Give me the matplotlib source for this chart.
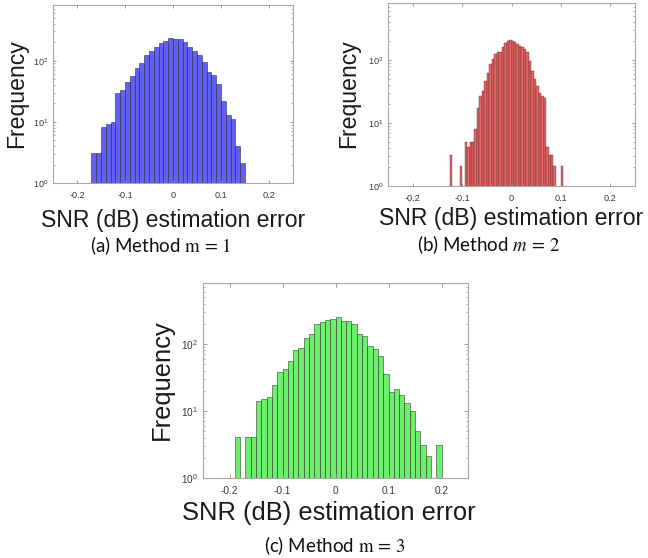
import numpy as np
import matplotlib
matplotlib.use("Agg")
import matplotlib.pyplot as plt
from matplotlib.ticker import LogLocator, NullFormatter

plt.rcParams["font.family"] = ["Liberation Sans", "DejaVu Sans"]
plt.rcParams["mathtext.fontset"] = "stix"
plt.rcParams["axes.unicode_minus"] = False

# Histogram data: left edge of first bin, bin width, counts per bin
m1_start, m1_width = -0.17, 0.01
m1_counts = [3, 3, 8, 9, 10, 30, 33, 44, 56, 76, 93, 125, 145, 170, 198, 213,
             238, 224, 226, 200, 170, 145, 125, 96, 66, 59, 42, 22, 13, 11, 4, 2]

m2_start, m2_width = -0.125, 0.005
m2_counts = [3, 0, 0, 0, 2, 0, 5, 4, 5, 5, 8, 17, 27, 32, 47, 63, 86, 106, 125,
             133, 136, 160, 187, 204, 212, 204, 193, 180, 166, 160, 150, 133, 98,
             67, 50, 39, 30, 27, 25, 4, 3, 3, 2, 0, 0, 2]

m3_start, m3_width = -0.19, 0.01
m3_counts = [4, 0, 4, 4, 14, 15, 16, 24, 38, 42, 56, 81, 86, 124, 139, 196, 215,
             228, 233, 250, 220, 223, 196, 139, 133, 93, 83, 65, 36, 19, 21, 17,
             13, 10, 5, 3, 2, 0, 3]

xticks = [-0.2, -0.1, 0, 0.1, 0.2]
xtick_labels = ["-0.2", "-0.1", "0", "0.1", "0.2"]
xlabel = "SNR (dB) estimation error"
ylabel = "Frequency"
captions = [r"(a) Method $\mathrm{m}\,=\,1$",
            r"(b) Method $m\,=\,2$",
            r"(c) Method $\mathrm{m}\,=\,3$"]

W, H = 648, 558
fig = plt.figure(figsize=(W / 100, H / 100), dpi=100)


def px_axes(left, top, right, bottom):
    return fig.add_axes([left / W, 1 - bottom / H, (right - left) / W, (bottom - top) / H])


def draw_hist(ax, start, width, counts, face, scale, lw):
    counts = np.asarray(counts, dtype=float)
    lefts = start + width * np.arange(len(counts))
    keep = counts > 0
    ax.set_yscale("log")
    ax.bar(lefts[keep], counts[keep], width=width, align="edge", bottom=0.1,
           color=face, edgecolor=(0.1, 0.1, 0.1, 0.75), linewidth=lw)
    ax.set_xlim(-0.25, 0.25)
    ax.set_ylim(1, 10 ** 2.91)
    ax.set_xticks(xticks)
    ax.set_xticklabels(xtick_labels)
    ax.yaxis.set_major_locator(LogLocator(base=10, numticks=10))
    ax.yaxis.set_minor_locator(LogLocator(base=10, subs=np.arange(2, 10), numticks=10))
    ax.yaxis.set_minor_formatter(NullFormatter())
    for s in ax.spines.values():
        s.set_color("#a8a8a8")
        s.set_linewidth(0.8)
    ax.tick_params(which="both", direction="in", top=True, right=True,
                   color="#8a8a8a", labelcolor="#383838", labelsize=6.6 * scale)
    ax.tick_params(which="major", length=2.4 * scale, width=0.6)
    ax.tick_params(which="minor", length=1.3 * scale, width=0.5)
    ax.tick_params(axis="x", pad=5.5 * scale)
    ax.tick_params(axis="y", pad=3.0 * scale)


# (a)
ax1 = px_axes(53, 5, 293, 183)
draw_hist(ax1, m1_start, m1_width, m1_counts, "#6060f2", 1.0, 0.45)
# (b)
ax2 = px_axes(388, 3, 635, 186)
draw_hist(ax2, m2_start, m2_width, m2_counts, "#ec6464", 1.0, 0.3)
# (c)
ax3 = px_axes(203, 283, 468, 478)
draw_hist(ax3, m3_start, m3_width, m3_counts, "#6cf06c", 1.1, 0.45)

# axis labels, placed in pixels
label_spec = [
    (ax1, 16.5, 94, 173, 220, 16.6),
    (ax2, 349, 94, 511, 219, 16.6),
    (ax3, 162, 380, 329, 513, 18.4),
]
for ax, yx, yy, xx, xy, fs in label_spec:
    bb = ax.get_position()
    l, b, w, h = bb.x0 * W, (1 - bb.y1) * H, bb.width * W, bb.height * H
    ax.set_ylabel(ylabel, fontsize=fs, color="#1a1a1a", va="center")
    ax.yaxis.set_label_coords((yx - l) / w, 1 - (yy - b) / h)
    ax.set_xlabel(xlabel, fontsize=fs, color="#1a1a1a", va="center")
    ax.xaxis.set_label_coords((xx - l) / w, 1 - (xy - b) / h)

# captions
cap_pos = [(161, 246), (488, 245), (335, 546)]
for text, (cx, cy) in zip(captions, cap_pos):
    fig.text(cx / W, 1 - cy / H, text, ha="center", va="center",
             fontsize=13.5, family=["Lato", "DejaVu Sans"], color="#111111")

fig.savefig("out.png", dpi=100)
